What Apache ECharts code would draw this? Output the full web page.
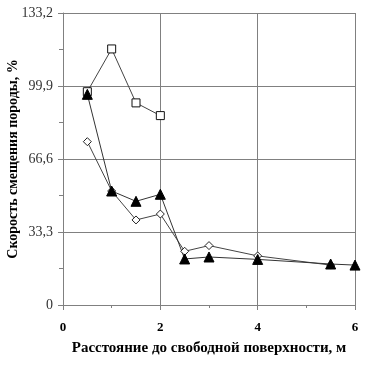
<!DOCTYPE html>
<html>
<head>
<meta charset="utf-8">
<script src="https://cdn.jsdelivr.net/npm/echarts@6/dist/echarts.min.js"></script>
<style>
    html, body { margin: 0; padding: 0; background: #fff; }
    #chart { width: 368px; height: 367px; }
</style>
</head>
<body>
<div id="chart"></div>
<script>
    // расстояние, м
    var squareX = [0.5, 1, 1.5, 2];
    var squareY = [97.3, 116.8, 92.2, 86.4];
    var triangleX = [0.5, 1, 1.5, 2, 2.5, 3, 4, 5.5, 6];
    var triangleY = [96.1, 52.0, 47.3, 50.5, 21.0, 21.9, 20.8, 18.7, 18.2];
    var diamondX = [0.5, 1, 1.5, 2, 2.5, 3, 4, 5.5];
    var diamondY = [74.5, 52.0, 38.8, 41.5, 24.5, 27.1, 22.4, 18.2];
    var yTickLabels = ['0', '33,3', '66,6', '99,9', '133,2'];

    function pairs(xs, ys) {
        var out = [];
        xs.forEach(function (x, i) {
            out.push([x, ys[i]]);
        });
        return out;
    }

    var serif = '"Liberation Serif", "DejaVu Serif", serif';
    var chart = echarts.init(document.getElementById('chart'));
    chart.setOption({
        animation: false,
        grid: { left: 63, right: 13, top: 13, bottom: 62, containLabel: false, outerBoundsMode: 'none' },
        xAxis: {
            type: 'value',
            min: 0,
            max: 6,
            interval: 2,
            name: 'Расстояние до свободной поверхности, м',
            nameLocation: 'middle',
            nameGap: 36,
            nameMoveOverlap: false,
            nameTextStyle: { fontFamily: serif, fontWeight: 'bold', fontSize: 15, color: '#000' },
            axisLine: { show: true, lineStyle: { color: '#808080', width: 1 } },
            axisTick: { show: true, length: 5, lineStyle: { color: '#808080' } },
            minorTick: { show: true, splitNumber: 2, length: 3, lineStyle: { color: '#808080' } },
            axisLabel: { margin: 16, fontFamily: serif, fontWeight: 'bold', fontSize: 13, color: '#000' },
            splitLine: { show: true, lineStyle: { color: '#808080', width: 1 } }
        },
        yAxis: {
            type: 'value',
            min: 0,
            max: 133.2,
            interval: 33.3,
            name: 'Скорость смещения породы, %',
            nameLocation: 'middle',
            nameGap: 43,
            nameMoveOverlap: false,
            nameTextStyle: { fontFamily: serif, fontWeight: 'bold', fontSize: 14, color: '#000' },
            axisLine: { show: true, lineStyle: { color: '#808080', width: 1 } },
            axisTick: { show: true, length: 5, lineStyle: { color: '#808080' } },
            minorTick: { show: true, splitNumber: 2, length: 4, lineStyle: { color: '#808080' } },
            axisLabel: {
                margin: 10,
                fontFamily: serif,
                fontSize: 14,
                color: '#333',
                formatter: function (v, i) { return yTickLabels[i]; }
            },
            splitLine: { show: true, lineStyle: { color: '#808080', width: 1 } }
        },
        series: [
            {
                type: 'line',
                data: pairs(diamondX, diamondY),
                symbol: 'diamond',
                symbolSize: 8,
                lineStyle: { color: '#444', width: 1 },
                itemStyle: { color: '#fff', borderColor: '#222', borderWidth: 1 }
            },
            {
                type: 'line',
                data: pairs(squareX, squareY),
                symbol: 'rect',
                symbolSize: 8,
                lineStyle: { color: '#444', width: 1 },
                itemStyle: { color: '#fff', borderColor: '#111', borderWidth: 1 }
            },
            {
                type: 'line',
                data: pairs(triangleX, triangleY),
                symbol: 'triangle',
                symbolSize: 10,
                lineStyle: { color: '#333', width: 1 },
                itemStyle: { color: '#000', borderColor: '#000' }
            }
        ]
    });
</script>
</body>
</html>
